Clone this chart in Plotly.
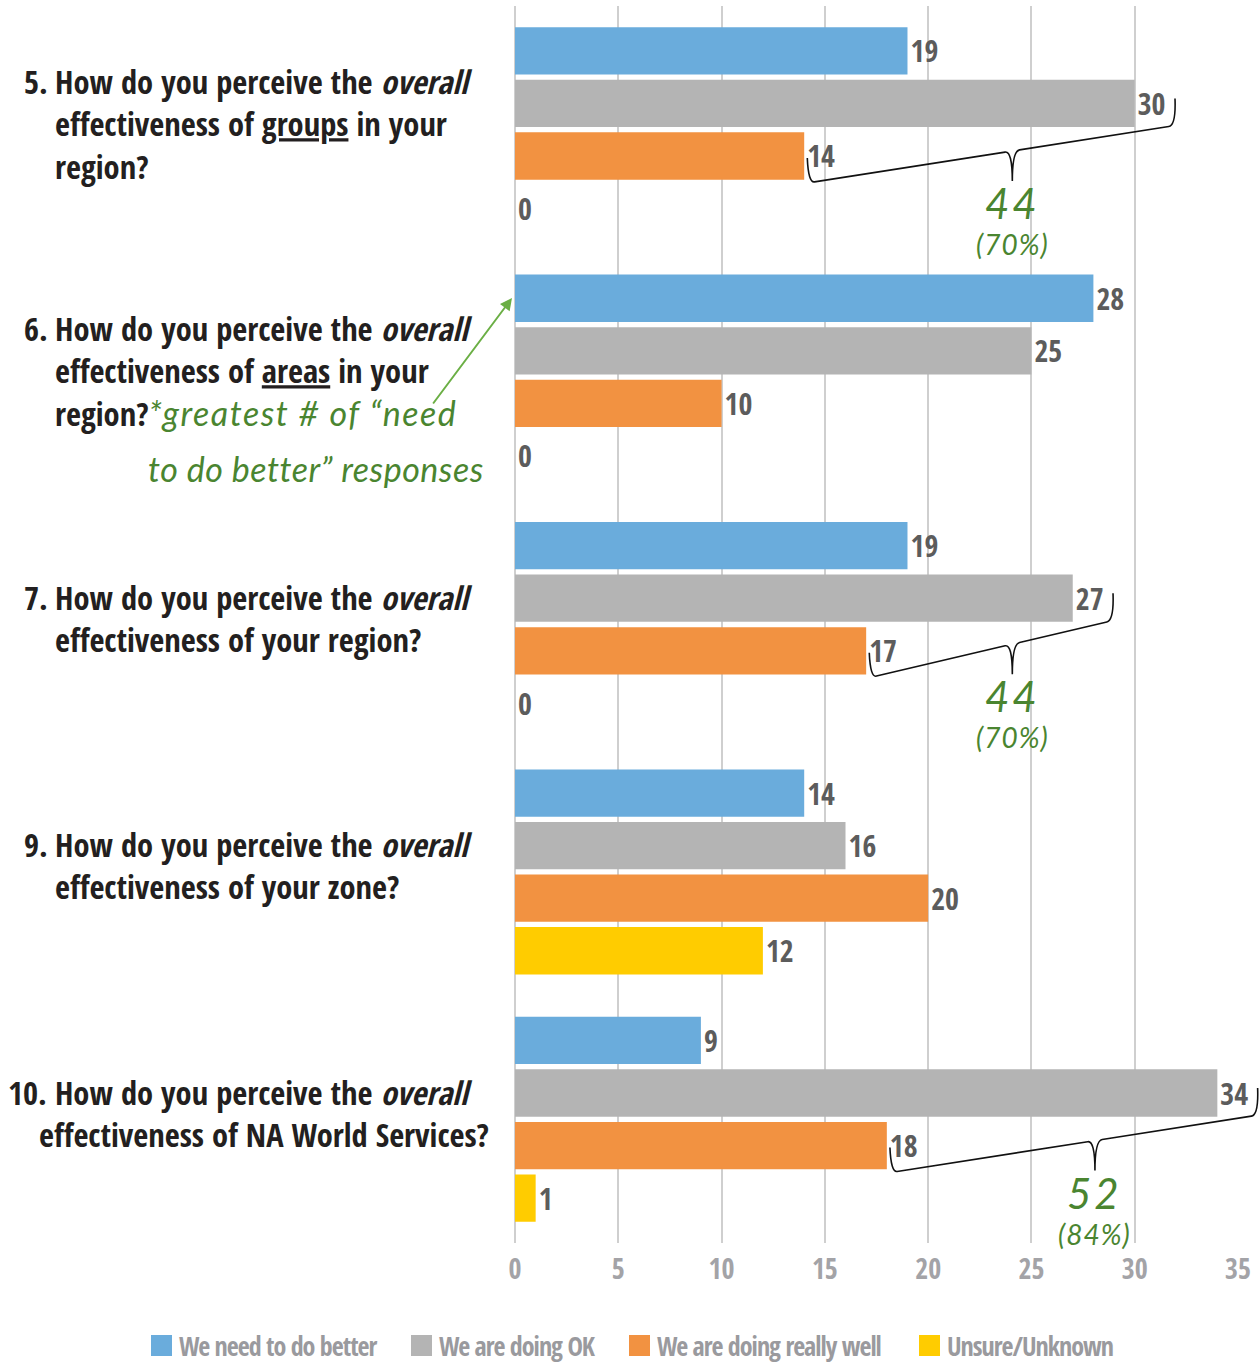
import plotly.graph_objects as go

# ---- data -------------------------------------------------------------
question_numbers = ["5.", "6.", "7.", "9.", "10."]
question_texts = [
    "How do you perceive the <i>overall</i><br>effectiveness of "
    "<span style='text-decoration:underline'>groups</span> in your<br>region?",
    "How do you perceive the <i>overall</i><br>effectiveness of "
    "<span style='text-decoration:underline'>areas</span> in your<br>region?",
    "How do you perceive the <i>overall</i><br>effectiveness of your region?",
    "How do you perceive the <i>overall</i><br>effectiveness of your zone?",
    "How do you perceive the <i>overall</i><br>effectiveness of NA World Services?",
]
series_names = ["We need to do better", "We are doing OK",
                "We are doing really well", "Unsure/Unknown"]
need_better = [19, 28, 19, 14, 9]
doing_ok = [30, 25, 27, 16, 34]
really_well = [14, 10, 17, 20, 18]
unsure = [0, 0, 0, 12, 1]
x_ticks = [0, 5, 10, 15, 20, 25, 30, 35]
bracketed = [0, 2, 4]          # questions with an "OK + really well" total

series_values = [need_better, doing_ok, really_well, unsure]
colors = ["#6AACDC", "#B4B4B4", "#F29241", "#FFCC00"]

# ---- styling ----------------------------------------------------------
NARROW = "Open Sans Condensed, Roboto Condensed, sans-serif"
HAND = "Lato, Noto Sans, sans-serif"
GREEN = "#4A8530"
W, H = 1260, 1363
L, R, T, B = 515, 22, 6, 120
PW, PH = W - L - R, H - T - B
NCAT = len(question_numbers)
UNIT = PH / NCAT               # pixels per category step
XMAX = 35


def px_x(px):
    return (px - L) / PW


def px_y(py):
    return (H - B - py) / PH


def dx(v):                     # data x -> paper x
    return v / XMAX


def dy(v):                     # category position -> paper y (reversed axis)
    return (NCAT - 0.5 - v) / NCAT


def spaced(text, px):
    return f"<span style='letter-spacing:{px}px'>{text}</span>"


pos = list(range(NCAT))

fig = go.Figure()
for name, vals, col in zip(series_names, series_values, colors):
    fig.add_trace(go.Bar(
        name=name, y=pos, x=vals, orientation="h",
        marker=dict(color=col, line=dict(width=0)),
        text=vals, textposition="outside", cliponaxis=False,
        textfont=dict(family=NARROW, size=30, color="#5C5C5C", weight="bold"),
        showlegend=False,
    ))

annotations = []
shapes = []

# question labels: the number hangs left of the wrapped question body
QSIZE = 32.5
for i, (num, txt) in enumerate(zip(question_numbers, question_texts)):
    lines = txt.split("<br>")
    qfont = dict(family=NARROW, size=QSIZE, color="#231F20", weight="bold")
    if num == "10.":
        # long number: first line runs on after it, the rest is indented less
        num_x, body_x = 6, 37
        head = num + " " + lines[0] + "<br> " * (len(lines) - 1)
        body = " " + "".join("<br>" + ln for ln in lines[1:])
    else:
        num_x, body_x = 22, 53
        head = num + "<br> " * (len(lines) - 1)
        body = txt
    annotations.append(dict(
        xref="paper", yref="y", x=px_x(num_x), y=i, yshift=6,
        xanchor="left", yanchor="middle", align="left",
        text=head, showarrow=False, font=qfont))
    if i == 1:
        body = (body + "<span style='color:%s;font-family:Lato;font-weight:400;"
                "font-style:italic;font-size:34px;letter-spacing:1.5px'>"
                "*greatest # of “need</span>" % GREEN)
    annotations.append(dict(
        xref="paper", yref="y", x=px_x(body_x), y=i, yshift=6,
        xanchor="left", yanchor="middle", align="left",
        text=body, showarrow=False, font=qfont))

# handwritten note on question 6
annotations.append(dict(
    xref="paper", yref="paper", x=px_x(146), y=px_y(468),
    xanchor="left", yanchor="middle", text=spaced("to do better” responses", 0.5),
    showarrow=False,
    font=dict(family=HAND, size=34, color=GREEN, style="italic", weight=400)))
annotations.append(dict(
    xref="paper", yref="paper", x=px_x(512), y=px_y(298),
    ax=432 - 512, ay=405 - 298,
    text="", showarrow=True, arrowhead=2, arrowsize=1.2, arrowwidth=2,
    arrowcolor="#6BAF45"))

# braces grouping "doing OK" + "doing really well"
half = 0.85 / 4
ok_off = -half / 2
well_off = half / 2
for i in bracketed:
    xl = really_well[i] + 0.15
    xr = doing_ok[i] + 2.0
    xt = (xl + xr) / 2 + 1.0
    yc_well = i + well_off
    yc_ok = i + ok_off
    yl_top = yc_well + 2 / UNIT
    yl_bot = yc_well + 27 / UNIT
    yr_top = yc_ok - 5 / UNIT
    yr_bot = yc_ok + 22 / UNIT
    slope = (yr_bot - yl_bot) / (xr - xl)
    y_mid = yl_bot + slope * (xt - xl)
    y_tip = y_mid + 30 / UNIT
    d = 0.35
    pts = [
        ("M", [(xl, yl_top)]),
        ("Q", [(xl + 0.05, yl_bot), (xl + d, yl_bot + slope * d)]),
        ("L", [(xt - d, y_mid - slope * d)]),
        ("Q", [(xt, y_mid), (xt, y_tip)]),
        ("M", [(xt, y_tip)]),
        ("Q", [(xt, y_mid), (xt + d, y_mid + slope * d)]),
        ("L", [(xr - d, yr_bot - slope * d)]),
        ("Q", [(xr, yr_bot), (xr - 0.05, yr_top)]),
    ]
    path = " ".join(
        cmd + " " + " ".join(f"{dx(a):.5f},{dy(b):.5f}" for a, b in p)
        for cmd, p in pts)
    shapes.append(dict(type="path", xref="paper", yref="paper", path=path,
                       line=dict(color="#111111", width=1.6)))
    total = doing_ok[i] + really_well[i]
    resp = need_better[i] + doing_ok[i] + really_well[i] + unsure[i]
    pct = round(100 * total / resp)
    annotations.append(dict(
        xref="paper", yref="paper", x=dx(xt), y=dy(y_tip + 22 / UNIT),
        xanchor="center", yanchor="middle", text=spaced(str(total), 3),
        showarrow=False,
        font=dict(family=HAND, size=42, color=GREEN, style="italic", weight=400)))
    annotations.append(dict(
        xref="paper", yref="paper", x=dx(xt), y=dy(y_tip + 63 / UNIT),
        xanchor="center", yanchor="middle", text=spaced(f"({pct}%)", 1),
        showarrow=False,
        font=dict(family=HAND, size=28, color=GREEN, style="italic", weight=400)))

# legend row
leg_sq_x = [151, 411, 629, 919]
for name, col, sx in zip(series_names, colors, leg_sq_x):
    shapes.append(dict(type="rect", xref="paper", yref="paper",
                       x0=px_x(sx), x1=px_x(sx + 21), y0=px_y(1356), y1=px_y(1335),
                       fillcolor=col, line=dict(width=0)))
    annotations.append(dict(
        xref="paper", yref="paper", x=px_x(sx + 26), y=px_y(1346),
        xanchor="left", yanchor="middle", text=spaced(name, -1), showarrow=False,
        font=dict(family=NARROW, size=26, color="#9A9A9E", weight="bold")))

fig.update_layout(
    width=W, height=H,
    margin=dict(l=L, r=R, t=T, b=B, pad=0),
    paper_bgcolor="white", plot_bgcolor="white",
    barmode="group", bargap=0.15, bargroupgap=0.1,
    xaxis=dict(range=[0, XMAX], tickvals=x_ticks, showgrid=True,
               gridcolor="#CFCFCF", gridwidth=2, zeroline=True,
               zerolinecolor="#CFCFCF", zerolinewidth=2, showline=False,
               ticks="", ticklabelstandoff=7,
               tickfont=dict(family=NARROW, size=28, color="#A3A3A7", weight="bold")),
    yaxis=dict(range=[NCAT - 0.5, -0.5], showticklabels=False, showgrid=False,
               zeroline=False, showline=False),
    annotations=annotations, shapes=shapes,
    showlegend=False,
)

fig.write_html("out.html")
